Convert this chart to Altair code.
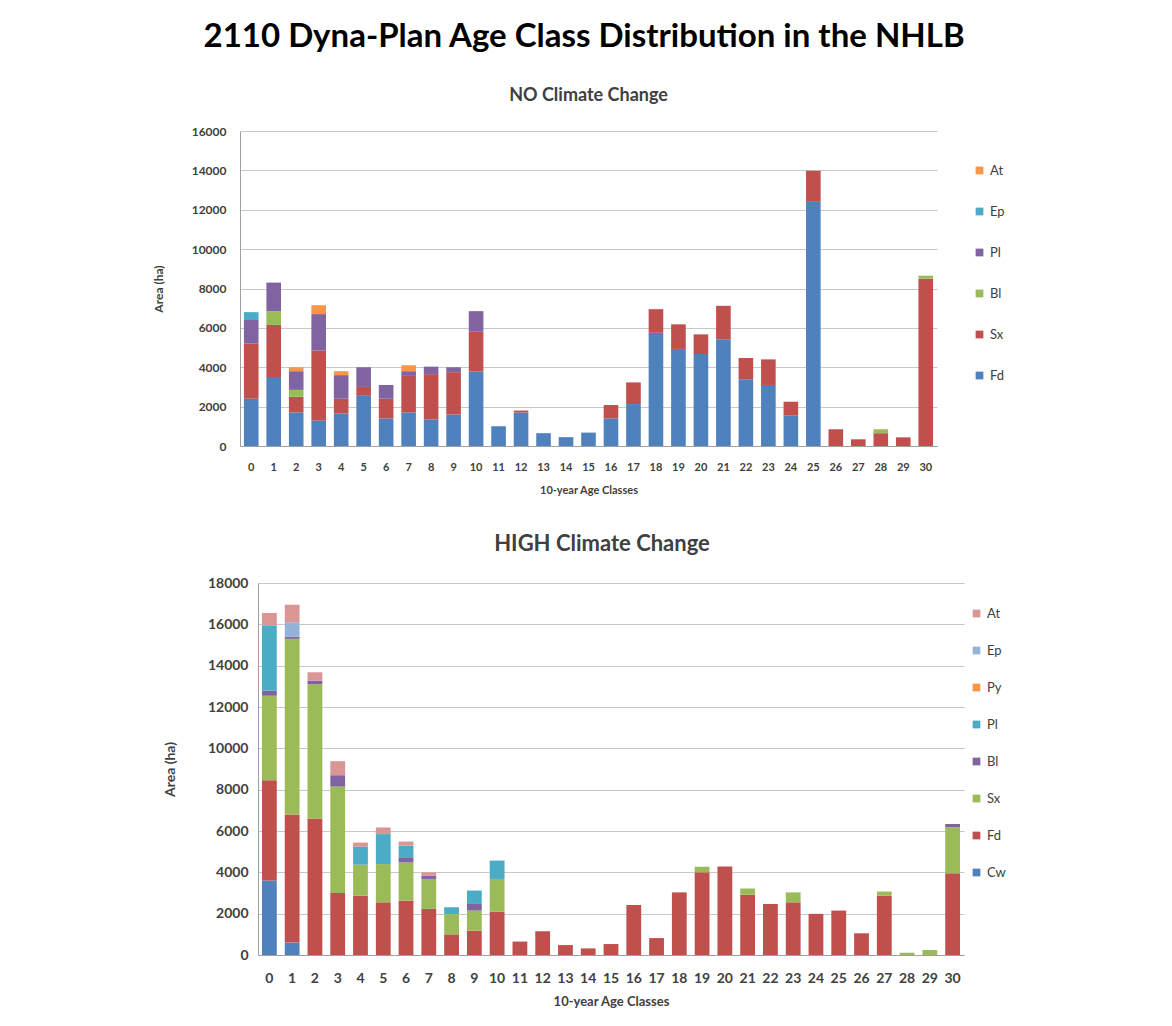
import altair as alt
import pandas as pd

classes = list(range(31))

# ---------- NO Climate Change (area, ha) ----------
no_domain = ["At", "Ep", "Pl", "Bl", "Sx", "Fd"]
no_colors = ["#F79646", "#4BACC6", "#8064A2", "#9BBB59", "#C0504D", "#4F81BD"]
no_Fd = [2400, 3500, 1700, 1300, 1650, 2550, 1400, 1700, 1350, 1600, 3780, 1000, 1700, 650, 450, 680,
         1400, 2130, 5750, 4930, 4670, 5420, 3390, 3100, 1540, 12400, 0, 0, 0, 0, 0]
no_Sx = [2800, 2650, 800, 3550, 750, 450, 1000, 1900, 2300, 2150, 2020, 0, 100, 0, 0, 0,
         680, 1100, 1200, 1250, 1000, 1700, 1080, 1300, 710, 1580, 850, 340, 650, 440, 8500]
no_Bl = [0, 700, 350, 0, 0, 0, 0, 0, 0, 0, 0, 0, 0, 0, 0, 0,
         0, 0, 0, 0, 0, 0, 0, 0, 0, 0, 0, 0, 200, 0, 150]
no_Pl = [1200, 1450, 950, 1850, 1200, 1000, 700, 200, 380, 250, 1050, 0, 0, 0, 0, 0,
         0, 0, 0, 0, 0, 0, 0, 0, 0, 0, 0, 0, 0, 0, 0]
no_Ep = [400, 0, 0, 0, 0, 0, 0, 0, 0, 0, 0, 0, 0, 0, 0, 0,
         0, 0, 0, 0, 0, 0, 0, 0, 0, 0, 0, 0, 0, 0, 0]
no_At = [0, 0, 200, 450, 200, 0, 0, 300, 0, 0, 0, 0, 0, 0, 0, 0,
         0, 0, 0, 0, 0, 0, 0, 0, 0, 0, 0, 0, 0, 0, 0]
no_series = {"Fd": no_Fd, "Sx": no_Sx, "Bl": no_Bl, "Pl": no_Pl, "Ep": no_Ep, "At": no_At}

# ---------- HIGH Climate Change (area, ha) ----------
hi_domain = ["At", "Ep", "Py", "Pl", "Bl", "Sx", "Fd", "Cw"]
hi_colors = ["#D99694", "#95B3D7", "#F79646", "#4BACC6", "#8064A2", "#9BBB59", "#C0504D", "#4F81BD"]
hi_Cw = [3600, 600, 0, 0, 0, 0, 0, 0, 0, 0, 0, 0, 0, 0, 0, 0,
         0, 0, 0, 0, 0, 0, 0, 0, 0, 0, 0, 0, 0, 0, 0]
hi_Fd = [4850, 6200, 6600, 3000, 2870, 2550, 2630, 2230, 1000, 1180, 2100, 650, 1150, 480, 320, 530,
         2420, 820, 3030, 4000, 4280, 2920, 2470, 2550, 1990, 2150, 1050, 2870, 0, 0, 3950]
hi_Sx = [4100, 8500, 6500, 5150, 1500, 1850, 1850, 1450, 980, 970, 1580, 0, 0, 0, 0, 0,
         0, 0, 0, 270, 0, 300, 0, 480, 0, 0, 0, 200, 110, 240, 2230]
hi_Bl = [250, 100, 180, 550, 0, 0, 250, 150, 0, 320, 0, 0, 0, 0, 0, 0,
         0, 0, 0, 0, 0, 0, 0, 0, 0, 0, 0, 0, 0, 0, 160]
hi_Pl = [3150, 0, 0, 0, 870, 1450, 560, 0, 330, 650, 890, 0, 0, 0, 0, 0,
         0, 0, 0, 0, 0, 0, 0, 0, 0, 0, 0, 0, 0, 0, 0]
hi_Py = [0] * 31
hi_Ep = [0, 700, 0, 0, 0, 0, 0, 0, 0, 0, 0, 0, 0, 0, 0, 0,
         0, 0, 0, 0, 0, 0, 0, 0, 0, 0, 0, 0, 0, 0, 0]
hi_At = [600, 850, 400, 680, 200, 320, 200, 170, 0, 0, 0, 0, 0, 0, 0, 0,
         0, 0, 0, 0, 0, 0, 0, 0, 0, 0, 0, 0, 0, 0, 0]
hi_series = {"Cw": hi_Cw, "Fd": hi_Fd, "Sx": hi_Sx, "Bl": hi_Bl, "Pl": hi_Pl,
             "Py": hi_Py, "Ep": hi_Ep, "At": hi_At}

FONT = "Lato"


def long_df(series):
    rows = []
    for k, (sp, vals) in enumerate(series.items()):
        for c, v in zip(classes, vals):
            if v > 0:
                rows.append({"cls": c, "sp": sp, "area": v, "ord": k})
    return pd.DataFrame(rows)


def panel(series, domain, colors, title, tsize, width, height, ymax, xrange, yoff,
          xlab_size, ylab_size, ttl_size, xlab_pad, xttl_pad, ylab_pad, yttl_pad,
          leg_x, leg_y, leg_pad):
    df = long_df(series)
    return alt.Chart(df).mark_bar().encode(
        x=alt.X("cls:O", sort=classes,
                scale=alt.Scale(paddingInner=0.35, paddingOuter=0.175, range=xrange),
                axis=alt.Axis(title="10-year Age Classes", labelAngle=0, labelFont=FONT,
                              labelFontSize=xlab_size, labelFontWeight="bold", labelColor="#404040",
                              titleFont=FONT, titleFontSize=ttl_size, titleFontWeight="bold",
                              titleColor="#404040", ticks=False, labelPadding=xlab_pad,
                              titlePadding=xttl_pad, domainColor="#A0A0A0", labelOverlap=False)),
        y=alt.Y("area:Q", stack="zero",
                scale=alt.Scale(domain=[0, ymax], nice=False),
                axis=alt.Axis(title="Area (ha)", values=list(range(0, ymax + 1, 2000)),
                              format="d", labelFont=FONT, labelFontSize=ylab_size,
                              labelFontWeight="bold", labelColor="#404040",
                              titleFont=FONT, titleFontSize=ttl_size + 1, titleFontWeight="bold",
                              titleColor="#404040", ticks=False, labelPadding=ylab_pad,
                              titlePadding=yttl_pad, offset=yoff, domainColor="#A0A0A0",
                              gridColor="#C8C8C8", gridWidth=1.2)),
        color=alt.Color("sp:N", scale=alt.Scale(domain=domain, range=colors),
                        legend=alt.Legend(title=None, orient="none", legendX=leg_x, legendY=leg_y,
                                          direction="vertical", symbolType="square",
                                          symbolSize=60, symbolStrokeWidth=0,
                                          labelFont=FONT, labelFontSize=13, labelColor="#404040",
                                          rowPadding=leg_pad)),
        order=alt.Order("ord:Q", sort="ascending"),
    ).properties(
        width=width, height=height,
        title=alt.TitleParams(title, font=FONT, fontSize=tsize, fontWeight="bold",
                              color="#404040", anchor="middle", frame="group", offset=20),
    )


top = panel(no_series, no_domain, no_colors, "NO Climate Change", 18, 697, 315, 16000,
            [0, 697], 0, 11, 12, 11, 15, 12, 14, 26, 733, 33, 27)
bottom = panel(hi_series, hi_domain, hi_colors, "HIGH Climate Change", 22, 724, 372, 18000,
               [18, 724], -18, 14, 14, 13, 16, 10, 10, 30, 730, 24, 23)

chart = alt.vconcat(top, bottom, spacing=38).resolve_scale(color="independent").properties(
    title=alt.TitleParams("2110 Dyna-Plan Age Class Distribution in the NHLB", font=FONT,
                          fontSize=33, fontWeight="bold", color="#000000", anchor="middle",
                          offset=33, dx=5),
    padding={"left": 144, "top": 13, "right": 10, "bottom": 10},
).configure_view(stroke=None)

chart.save("out.html", embed_options={"renderer": "svg", "actions": False})
